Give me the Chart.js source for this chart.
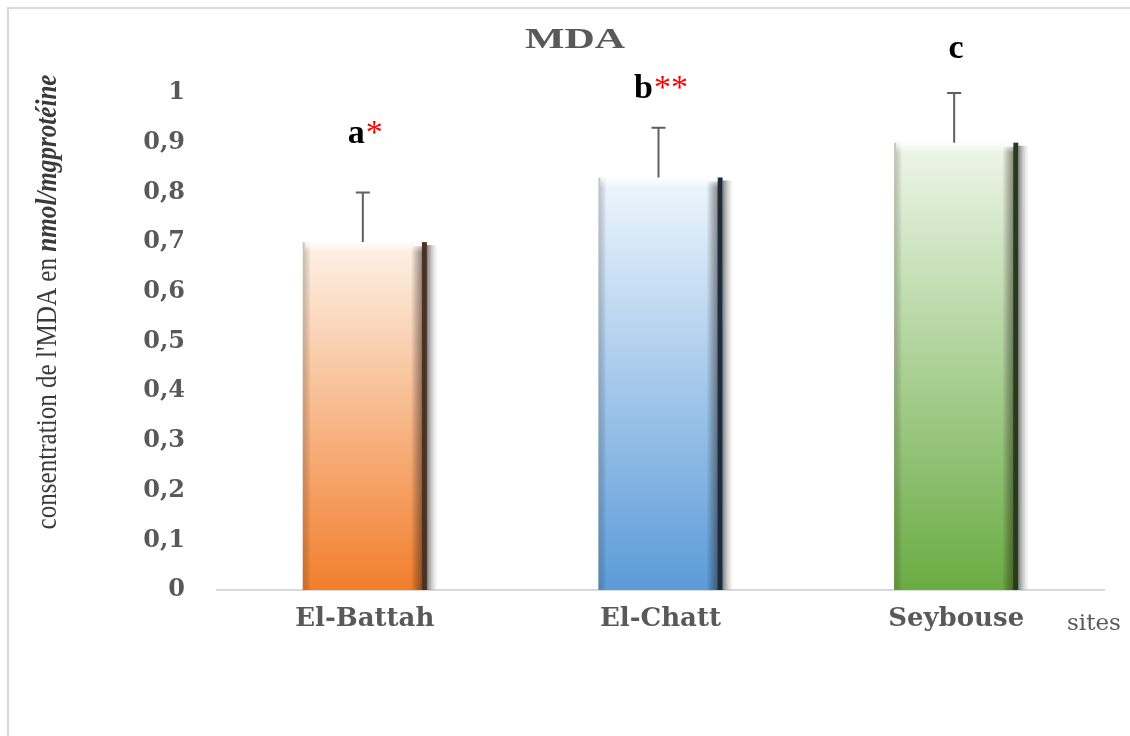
<!DOCTYPE html>
<html lang="fr">
<head>
    <meta charset="UTF-8">
    <title>MDA</title>
    <script src="https://cdn.jsdelivr.net/npm/chart.js"></script>
    <style>
        html, body { margin: 0; padding: 0; background: #ffffff; }
        #wrap { width: 1130px; height: 736px; }
    </style>
</head>
<body>
    <div id="wrap"><canvas id="mdaChart" width="1130" height="736"></canvas></div>
    <script>
        // valeurs
        const sites = ['El-Battah', 'El-Chatt', 'Seybouse'];
        const mdaValues = [0.70, 0.83, 0.90];
        const mdaErrors = [0.10, 0.10, 0.10];
        const groupLetters = ['a', 'b', 'c'];
        const groupStars = ['*', '**', ''];

        // couleurs des barres (bas -> haut), et bord sombre
        const barDark = ['#f27e2c', '#5b9bd8', '#6aab43'];
        const barLight = ['#fdf2e8', '#eef6fd', '#eef6e9'];
        const barEdge = ['#4a3324', '#1e2b3b', '#263a1e'];
        const letterGap = [49, 30, 35];  // espace entre la barre d'erreur et la lettre

        const frame = {
            id: 'frame',
            beforeDraw(chart) {
                const c = chart.ctx;
                c.save();
                c.fillStyle = '#ffffff';
                c.fillRect(0, 0, chart.width, chart.height);
                c.strokeStyle = '#d9d9d9';
                c.lineWidth = 2;
                c.strokeRect(8, 8, 1200, 900);
                c.restore();
            }
        };

        // ombre, biseau et bord sombre a droite des barres
        const bevel = {
            id: 'bevel',
            afterDatasetsDraw(chart) {
                const c = chart.ctx;
                const meta = chart.getDatasetMeta(0);
                meta.data.forEach((bar, i) => {
                    const left = bar.x - bar.width / 2;
                    const right = bar.x + bar.width / 2;
                    const top = bar.y;
                    const h = bar.base - bar.y;
                    c.save();
                    // ombre
                    let g = c.createLinearGradient(right, 0, right + 10, 0);
                    g.addColorStop(0, 'rgba(110,110,110,0.9)');
                    g.addColorStop(1, 'rgba(200,200,200,0.1)');
                    c.fillStyle = g;
                    c.fillRect(right, top + 3, 10, h - 3);
                    // biseau droit
                    g = c.createLinearGradient(right - 16, 0, right - 4, 0);
                    g.addColorStop(0, 'rgba(0,0,0,0)');
                    g.addColorStop(1, 'rgba(40,20,10,0.5)');
                    c.fillStyle = g;
                    c.fillRect(right - 16, top + 4, 12, h - 4);
                    c.fillStyle = barEdge[i];
                    c.fillRect(right - 5, top, 5, h);
                    // biseau gauche
                    g = c.createLinearGradient(left, 0, left + 8, 0);
                    g.addColorStop(0, 'rgba(90,80,70,0.3)');
                    g.addColorStop(1, 'rgba(0,0,0,0)');
                    c.fillStyle = g;
                    c.fillRect(left, top, 8, h);
                    // reflet du haut
                    g = c.createLinearGradient(0, top, 0, top + 10);
                    g.addColorStop(0, 'rgba(255,255,255,0.9)');
                    g.addColorStop(1, 'rgba(255,255,255,0)');
                    c.fillStyle = g;
                    c.fillRect(left + 2, top, bar.width - 7, 10);
                    c.restore();
                });
            }
        };

        const errorBars = {
            id: 'errorBars',
            afterDatasetsDraw(chart) {
                const c = chart.ctx;
                const y = chart.scales.y;
                const meta = chart.getDatasetMeta(0);
                c.save();
                c.strokeStyle = '#5f5f5f';
                c.lineWidth = 2;
                meta.data.forEach((bar, i) => {
                    const x = bar.x - 2;
                    const yTop = y.getPixelForValue(mdaValues[i] + mdaErrors[i]);
                    c.beginPath();
                    c.moveTo(x, bar.y);
                    c.lineTo(x, yTop);
                    c.moveTo(x - 7, yTop);
                    c.lineTo(x + 7, yTop);
                    c.stroke();
                });
                c.restore();
            }
        };

        function drawScaled(c, text, x, y, font, color, width, align) {
            c.save();
            c.font = font;
            c.fillStyle = color;
            c.textBaseline = 'alphabetic';
            const w = c.measureText(text).width;
            const s = width / w;
            c.translate(x, y);
            c.scale(s, 1);
            c.textAlign = align || 'center';
            c.fillText(text, 0, 0);
            c.restore();
        }

        const texts = {
            id: 'texts',
            afterDraw(chart) {
                const c = chart.ctx;
                const y = chart.scales.y;
                const meta = chart.getDatasetMeta(0);

                // titre
                drawScaled(c, 'MDA', 575, 48, 'bold 30px "Liberation Serif"', '#595959', 100);

                // lettres de groupes
                meta.data.forEach((bar, i) => {
                    const yTop = y.getPixelForValue(mdaValues[i] + mdaErrors[i]);
                    const base = yTop - letterGap[i];
                    c.save();
                    c.font = 'bold 34px "Liberation Serif"';
                    const lw = c.measureText(groupLetters[i]).width;
                    c.font = '34px "Liberation Serif"';
                    const sw = c.measureText(groupStars[i]).width;
                    let x = bar.x - (lw + sw) / 2;
                    c.textAlign = 'left';
                    c.textBaseline = 'alphabetic';
                    c.font = 'bold 34px "Liberation Serif"';
                    c.fillStyle = '#000000';
                    c.fillText(groupLetters[i], x, base);
                    c.font = '34px "Liberation Serif"';
                    c.fillStyle = '#ff0000';
                    c.fillText(groupStars[i], x + lw + 1, base);
                    c.restore();
                });

                // "sites"
                c.save();
                c.font = '23px "DejaVu Serif"';
                c.fillStyle = '#595959';
                c.textAlign = 'left';
                c.fillText('sites', 1067, 630);
                c.restore();

                // titre de l'axe y (deux styles)
                const part1 = 'consentration de l\'MDA en ';
                const part2 = 'nmol/mgprotéine';
                const f1 = '29px "Liberation Serif"';
                const f2 = 'bold italic 29px "Liberation Serif"';
                c.save();
                c.font = f1;
                const w1 = c.measureText(part1).width;
                c.font = f2;
                const w2 = c.measureText(part2).width;
                const s = 455 / (w1 + w2);
                c.translate(56, 302);
                c.rotate(-Math.PI / 2);
                c.scale(s, 1);
                c.fillStyle = '#3a3a3a';
                c.textBaseline = 'alphabetic';
                c.textAlign = 'left';
                const start = -(w1 + w2) / 2;
                c.font = f1;
                c.fillText(part1, start, 0);
                c.font = f2;
                c.fillText(part2, start + w1, 0);
                c.restore();
            }
        };

        new Chart(document.getElementById('mdaChart'), {
            type: 'bar',
            data: {
                labels: sites,
                datasets: [{
                    label: 'MDA',
                    data: mdaValues,
                    backgroundColor(ctx) {
                        const chart = ctx.chart;
                        const i = ctx.dataIndex;
                        if (!chart.chartArea || i === undefined) return barDark[i || 0];
                        const ys = chart.scales.y;
                        const top = ys.getPixelForValue(mdaValues[i]);
                        const base = ys.getPixelForValue(0);
                        const g = chart.ctx.createLinearGradient(0, base, 0, top);
                        g.addColorStop(0, barDark[i]);
                        g.addColorStop(1, barLight[i]);
                        return g;
                    },
                    borderWidth: 0,
                    barPercentage: 0.42,
                    categoryPercentage: 1.0
                }]
            },
            options: {
                responsive: false,
                animation: false,
                layout: { padding: { left: 0, top: 93, right: 26, bottom: 0 } },
                plugins: {
                    legend: { display: false },
                    title: { display: false },
                    tooltip: { enabled: false }
                },
                scales: {
                    x: {
                        grid: { display: false, drawTicks: false },
                        border: { display: true, color: '#d9d9d9', width: 2 },
                        ticks: {
                            color: '#595959',
                            font: { family: 'DejaVu Serif', weight: 'bold', size: 26 },
                            padding: 14
                        },
                        afterFit(scale) { scale.height = 146; }
                    },
                    y: {
                        min: 0,
                        max: 1,
                        grid: { display: false, drawTicks: false },
                        border: { display: false },
                        ticks: {
                            stepSize: 0.1,
                            color: '#595959',
                            font: { family: 'DejaVu Serif', weight: 'bold', size: 24 },
                            padding: 32,
                            callback(v) {
                                const r = Math.round(v * 10) / 10;
                                if (r === 0 || r === 1) return String(r);
                                return r.toFixed(1).replace('.', ',');
                            }
                        },
                        afterFit(scale) { scale.width = 217; }
                    }
                }
            },
            plugins: [frame, bevel, errorBars, texts]
        });
    </script>
</body>
</html>
